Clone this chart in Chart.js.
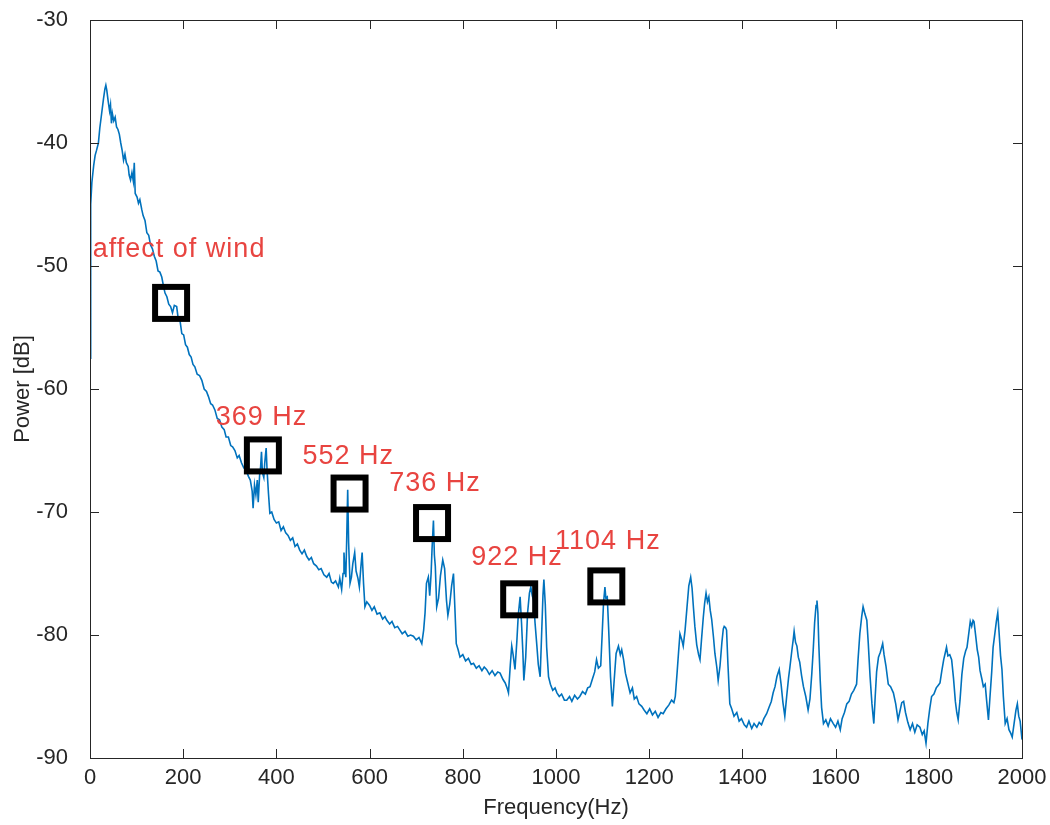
<!DOCTYPE html>
<html>
<head>
<meta charset="utf-8">
<script src="https://cdn.jsdelivr.net/npm/chart.js@4.4.1/dist/chart.umd.min.js"></script>
<style>
  html, body { margin: 0; padding: 0; background: #fff; }
  #wrap { width: 1050px; height: 825px; }
</style>
</head>
<body>
<div id="wrap"><canvas id="spectrum" width="1050" height="825"></canvas></div>
<script>
// spectrum (Hz, dB)
const freqHz = [
    0, 1, 2, 4, 6, 8, 11, 14, 18, 21, 25, 29, 32, 34, 36,
    39, 42, 44, 46, 48, 51, 54, 57, 60, 63, 66, 69, 72, 75, 78, 82, 84, 87, 90, 93, 95, 97,
    101, 104, 107, 111, 114, 118, 122, 126, 130, 134, 138, 142, 146, 150, 154, 158, 161, 165, 169, 173, 177, 181, 186, 189, 193, 197,
    201, 205, 209, 213, 217, 221, 225, 230, 235, 240, 245, 250, 254, 259, 263, 268, 273, 278, 283, 288, 292, 297, 302, 306, 311, 316, 320, 325, 330, 335, 340,
    344, 348, 350, 353, 356, 359, 361, 364, 366, 368, 370, 373, 375, 378, 380, 383, 386, 390, 395, 400,
    405, 410, 415, 420, 425, 430, 435, 440, 445, 450, 455, 460, 465, 470, 475, 480, 486, 491, 496, 502, 508, 513, 518, 522, 527, 533, 536, 540,
    543, 545, 547, 549, 551, 553, 555, 558, 561, 564, 568, 571, 575, 578, 581, 584, 587, 590, 594,
    600, 605, 610, 616, 622, 628, 633, 637, 643, 648, 654, 660, 665, 670, 676, 682, 688, 694, 700, 706, 712, 716,
    719, 722, 726, 729, 732, 734, 737, 739, 741, 744, 748, 752, 757, 761, 765, 768, 772, 776, 780, 783, 786, 790,
    794, 800, 806, 812, 818, 823, 829, 835, 841, 846, 851, 857, 863, 869, 875, 880, 886, 891, 895, 898,
    902, 905, 908, 912, 916, 919, 923, 926, 929, 931, 935, 939, 943, 946, 949, 952, 955, 959, 962, 966, 969, 972, 974, 977, 980, 984, 988,
    993, 998, 1002, 1007, 1012, 1018, 1023, 1029, 1034, 1040, 1046, 1051, 1057, 1063, 1068, 1073, 1078, 1083, 1087, 1091, 1096, 1099, 1102,
    1105, 1107, 1110, 1113, 1117, 1121, 1125, 1129, 1134, 1138, 1141, 1145, 1149, 1154, 1159, 1164, 1168, 1173, 1178, 1184, 1189, 1195,
    1201, 1207, 1213, 1219, 1225, 1230, 1236, 1242, 1248, 1253, 1256, 1260, 1263, 1266, 1270, 1273, 1277,
    1281, 1285, 1289, 1292, 1295, 1298, 1302, 1306, 1309, 1312, 1316, 1319, 1322, 1325, 1328, 1331, 1334, 1338, 1341, 1345, 1348, 1352, 1356, 1359, 1361, 1364, 1366, 1369, 1373, 1377,
    1382, 1388, 1393, 1398, 1404, 1409, 1414, 1420, 1425, 1431, 1436, 1441, 1446, 1452, 1457, 1462, 1466, 1470, 1474, 1479, 1483, 1487, 1491,
    1495, 1499, 1502, 1506, 1509, 1511, 1514, 1517, 1520, 1523, 1527, 1531, 1536, 1541, 1545, 1549, 1552, 1555, 1558, 1560, 1562, 1564, 1567, 1570, 1574,
    1579, 1584, 1589, 1595, 1600, 1605, 1610, 1614, 1619, 1624, 1629, 1634, 1639, 1645, 1648, 1652, 1656, 1659, 1663, 1667, 1670, 1674, 1678, 1682, 1685, 1688, 1692, 1696, 1701,
    1704, 1708, 1713, 1718, 1724, 1729, 1734, 1738, 1742, 1746, 1750, 1755, 1760, 1765, 1770, 1775, 1781, 1786, 1790, 1794, 1798,
    1802, 1806, 1811, 1816, 1820, 1824, 1828, 1832, 1835, 1838, 1841, 1845, 1849, 1853, 1857, 1860, 1863, 1867, 1871, 1875, 1879, 1882, 1886, 1889, 1892, 1895, 1897,
    1901, 1904, 1907, 1910, 1914, 1917, 1921, 1924, 1928, 1931, 1935, 1938, 1942, 1945, 1948, 1951, 1954, 1957, 1960, 1964, 1968, 1972, 1976, 1979, 1983, 1987, 1990, 1993, 1996, 2000
];

const powerDb = [
    -57.5, -48.5, -45.0, -43.2, -42.5, -41.8, -41.0, -40.6, -40.0, -38.8, -37.6, -36.4, -35.6, -35.3, -35.7,
    -36.6, -37.4, -36.9, -38.4, -37.6, -38.2, -37.9, -38.7, -38.9, -39.3, -40.0, -40.6, -41.4, -40.9, -41.6, -41.9, -42.6, -43.0, -42.4, -43.1, -41.6, -44.1,
    -44.4, -44.9, -44.6, -45.4, -45.9, -46.3, -47.3, -47.5, -48.3, -48.6, -49.2, -49.6, -50.4, -50.5, -50.9, -51.7, -52.2, -52.5, -53.1, -53.3, -53.8, -53.2, -53.3, -54.2, -54.4, -55.5,
    -55.6, -56.4, -56.6, -57.2, -57.4, -58.0, -58.2, -58.8, -58.9, -59.3, -60.0, -60.2, -60.6, -61.2, -61.3, -61.7, -62.4, -62.5, -63.1, -63.3, -63.9, -63.9, -64.6, -64.7, -65.0, -65.6, -65.4, -66.0, -66.4, -66.6, -67.1,
    -67.4, -68.3, -69.7, -67.8, -68.6, -67.4, -69.2, -67.0, -66.4, -65.1, -66.8, -67.2, -66.0, -64.8, -66.6, -68.5, -70.1, -70.0, -70.6, -70.9,
    -70.8, -71.5, -71.2, -71.7, -71.9, -72.3, -72.1, -72.8, -72.6, -73.1, -73.4, -73.1, -73.6, -73.9, -73.7, -74.2, -74.4, -74.7, -74.6, -75.1, -75.3, -75.0, -75.7, -75.8, -75.6, -76.1, -75.4, -76.3,
    -75.0, -73.3, -74.6, -75.3, -72.0, -68.2, -72.5, -75.8, -75.3, -74.2, -73.3, -74.8, -75.4, -76.1, -74.6, -73.3, -75.8, -77.7, -77.3,
    -77.6, -78.0, -77.7, -78.3, -78.2, -78.7, -78.5, -78.8, -79.1, -78.9, -79.4, -79.3, -79.6, -79.9, -79.7, -80.1, -80.0, -80.1, -80.4, -80.2, -80.7, -79.6,
    -78.2, -75.8, -75.3, -76.8, -75.0, -73.0, -70.7, -73.5, -74.4, -77.7, -77.0, -75.2, -73.9, -74.6, -77.2, -78.4, -77.5, -76.0, -75.0, -77.8, -80.7, -81.2,
    -81.8, -81.6, -82.1, -81.9, -82.4, -82.3, -82.7, -82.5, -82.9, -82.6, -82.8, -83.2, -82.9, -83.3, -83.0, -83.1, -83.6, -83.9, -84.3, -84.7,
    -82.4, -80.9, -81.6, -82.8, -80.5, -78.4, -76.9, -79.0, -81.5, -83.7, -81.8, -78.2, -76.6, -76.1, -76.8, -77.2, -79.0, -80.9, -82.4, -83.4, -80.1, -76.8, -75.5, -77.5, -81.0, -83.4, -84.0,
    -84.5, -84.3, -84.7, -85.0, -84.8, -85.3, -85.3, -85.0, -85.4, -84.9, -85.2, -85.0, -84.6, -84.8, -84.3, -84.2, -83.6, -83.0, -82.0, -82.7, -82.5, -80.0, -77.4,
    -76.1, -77.0, -76.9, -79.5, -83.4, -85.8, -83.6, -81.5, -80.9, -81.6, -81.2, -82.0, -83.1, -83.9, -84.7, -84.3, -85.2, -85.0, -85.6, -85.8, -86.1, -86.4,
    -86.0, -86.5, -86.2, -86.7, -86.3, -86.4, -86.0, -85.7, -85.3, -85.5, -85.0, -83.0, -81.4, -79.9, -80.4, -80.9, -79.6,
    -77.8, -76.0, -75.3, -76.2, -77.8, -79.3, -80.8, -81.6, -82.0, -80.5, -78.6, -77.4, -76.6, -77.3, -76.9, -78.0, -78.7, -80.2, -81.5, -82.6, -83.7, -82.5, -80.6, -79.5, -79.3, -79.4, -79.6, -82.4, -85.6, -86.0,
    -86.6, -86.3, -87.0, -86.8, -87.3, -87.5, -87.0, -87.6, -87.2, -87.5, -87.1, -87.3, -86.8, -86.4, -85.9, -85.4, -84.7, -84.2, -83.4, -82.8, -84.0, -85.5, -86.6,
    -85.0, -83.5, -82.6, -81.3, -80.4, -79.7, -80.6, -80.9, -81.8, -82.2, -83.3, -84.2, -85.0, -86.1, -85.2, -83.1, -81.2, -79.0, -77.6, -77.2, -78.2, -80.8, -83.7, -85.9, -87.2,
    -86.9, -87.4, -86.8, -87.2, -87.5, -87.0, -87.7, -86.8, -86.3, -85.6, -85.4, -84.8, -84.5, -84.0, -82.1, -79.9, -78.5, -77.7, -78.3, -78.8, -80.6, -83.4, -85.6, -87.2, -85.0, -83.0, -81.8, -81.4, -80.7,
    -81.6, -82.5, -84.0, -84.2, -84.7, -85.6, -86.9, -86.2, -85.5, -85.4, -86.3, -87.1, -87.7, -87.2, -87.9, -87.3, -87.5, -88.1, -87.8, -88.8, -87.2,
    -86.0, -85.0, -84.8, -84.3, -84.1, -83.9, -82.9, -82.0, -81.5, -81.0, -81.7, -81.6, -82.0, -83.5, -85.4, -86.3, -86.9, -85.3, -83.2, -81.9, -81.3, -81.0, -79.8, -78.9, -79.3, -78.8, -78.9,
    -80.2, -81.2, -81.8, -82.9, -83.6, -84.2, -84.0, -85.3, -86.9, -85.2, -83.0, -81.0, -79.8, -78.9, -78.2, -79.9, -81.7, -82.8, -85.0, -87.2, -86.8, -87.7, -88.0, -88.3, -87.2, -86.1, -85.6, -86.6, -87.0, -88.5
];

// annotations: text label anchors and marked peaks
const labelText  = ["affect of wind", "369 Hz", "552 Hz", "736 Hz", "922 Hz", "1104 Hz"];
const labelFreq  = [6, 270, 456, 642, 818, 998];
const labelPower = [-48.7, -62.3, -65.5, -67.7, -73.7, -72.4];
const boxFreq    = [174, 371, 557, 734, 921, 1108];
const boxPower   = [-53.0, -65.4, -68.5, -70.9, -77.1, -76.05];

const FONT = "'Liberation Sans', Arial, Helvetica, sans-serif";
const AXIS_COLOR = "#262626";

// MATLAB style box with ticks pointing in
const frameAndTicks = {
    id: "frameAndTicks",
    afterDatasetsDraw(chart) {
        const { ctx, chartArea: a, scales } = chart;
        const len = 9;
        ctx.save();
        ctx.strokeStyle = AXIS_COLOR;
        ctx.lineWidth = 1;
        ctx.beginPath();
        scales.x.ticks.forEach(t => {
            const px = Math.round(scales.x.getPixelForValue(t.value)) + 0.5;
            ctx.moveTo(px, a.bottom); ctx.lineTo(px, a.bottom - len);
            ctx.moveTo(px, a.top); ctx.lineTo(px, a.top + len);
        });
        scales.y.ticks.forEach(t => {
            const py = Math.round(scales.y.getPixelForValue(t.value)) + 0.5;
            ctx.moveTo(a.left, py); ctx.lineTo(a.left + len, py);
            ctx.moveTo(a.right, py); ctx.lineTo(a.right - len, py);
        });
        ctx.stroke();
        ctx.strokeRect(Math.round(a.left) + 0.5, Math.round(a.top) + 0.5,
            Math.round(a.right - a.left), Math.round(a.bottom - a.top));
        ctx.restore();
    }
};

const peakNotes = {
    id: "peakNotes",
    afterDraw(chart) {
        const { ctx, scales } = chart;
        ctx.save();
        // black squares
        ctx.strokeStyle = "#000";
        ctx.lineWidth = 6;
        const side = 32;
        boxFreq.forEach((f, i) => {
            const cx = scales.x.getPixelForValue(f);
            const cy = scales.y.getPixelForValue(boxPower[i]);
            ctx.strokeRect(cx - side / 2, cy - side / 2, side, side);
        });
        // red labels
        ctx.fillStyle = "rgb(232, 68, 64)";
        ctx.font = "27px " + FONT;
        ctx.textAlign = "left";
        ctx.textBaseline = "middle";
        if ("letterSpacing" in ctx) ctx.letterSpacing = "1px";
        labelText.forEach((txt, i) => {
            ctx.fillText(txt, scales.x.getPixelForValue(labelFreq[i]), scales.y.getPixelForValue(labelPower[i]));
        });
        ctx.restore();
    }
};

const spectrum = document.getElementById("spectrum");

new Chart(spectrum, {
    type: "line",
    data: {
        datasets: [
            {
                label: "PSD",
                data: freqHz.map((f, i) => ({ x: f, y: powerDb[i] })),
                borderColor: "#0072BD",
                borderWidth: 1.6,
                pointRadius: 0,
                tension: 0,
            },
        ],
    },
    options: {
        responsive: false,
        animation: false,
        layout: { padding: { top: 20, right: 28, left: 0, bottom: 0 } },
        plugins: {
            legend: { display: false },
            tooltip: { enabled: false },
        },
        scales: {
            x: {
                type: "linear",
                min: 0,
                max: 2000,
                grid: { display: false, drawTicks: false },
                border: { display: false },
                ticks: {
                    stepSize: 200,
                    padding: 7,
                    maxRotation: 0,
                    color: AXIS_COLOR,
                    font: { family: FONT, size: 22 },
                    callback: v => String(v),
                },
                title: {
                    display: true,
                    text: "Frequency(Hz)",
                    color: AXIS_COLOR,
                    font: { family: FONT, size: 22 },
                    padding: { top: 0, bottom: 4 },
                },
                afterFit(scale) {
                    scale.height = 67;
                    scale.paddingLeft = 0;
                    scale.paddingRight = 0;
                },
            },
            y: {
                min: -90,
                max: -30,
                grid: { display: false, drawTicks: false },
                border: { display: false },
                ticks: {
                    stepSize: 10,
                    padding: 22,
                    color: AXIS_COLOR,
                    font: { family: FONT, size: 22 },
                },
                title: {
                    display: true,
                    text: "Power [dB]",
                    color: AXIS_COLOR,
                    font: { family: FONT, size: 22 },
                    padding: { top: 10, bottom: 0 },
                },
                afterFit(scale) {
                    scale.width = 90;
                    scale.paddingTop = 0;
                    scale.paddingBottom = 0;
                },
            },
        },
    },
    plugins: [frameAndTicks, peakNotes],
});
</script>
</body>
</html>
